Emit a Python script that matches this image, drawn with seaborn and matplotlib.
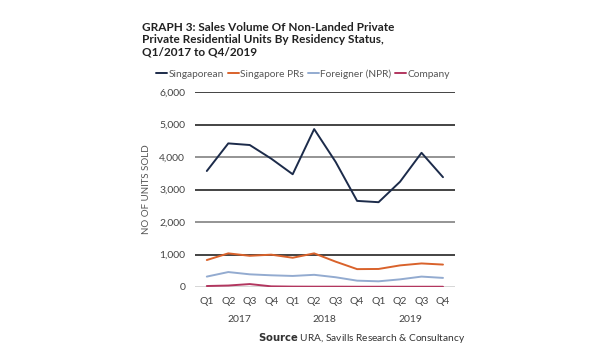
import pandas as pd
import matplotlib.pyplot as plt
import seaborn as sns

# Quarterly sales volume, Q1/2017 to Q4/2019
quarters = ['Q1', 'Q2', 'Q3', 'Q4'] * 3
years = ['2017', '2018', '2019']
singaporean = [3570, 4420, 4370, 3950, 3470, 4860, 3850, 2650, 2610, 3240, 4130, 3380]
singapore_prs = [830, 1035, 960, 995, 900, 1035, 780, 550, 555, 665, 725, 690]
foreigner = [320, 460, 390, 360, 340, 375, 300, 195, 175, 235, 320, 280]
company = [30, 45, 90, 20, 12, 10, 10, 8, 8, 8, 8, 8]

series = {
    'Singaporean': singaporean,
    'Singapore PRs': singapore_prs,
    'Foreigner (NPR)': foreigner,
    'Company': company,
}
colors = ['#1c2b4a', '#d9622b', '#93abd0', '#b2365f']

rows = []
for name, vals in series.items():
    for i, v in enumerate(vals):
        rows.append({'pos': i, 'status': name, 'units': v})
df = pd.DataFrame(rows)

sns.set_style('white')
plt.rcParams['font.family'] = ['Lato', 'DejaVu Sans']

fig = plt.figure(figsize=(6, 3.61), dpi=100)
ax = fig.add_axes([0.325, 0.205, 0.433, 0.54])

# gridlines
grid_cols = {0: '#cccccc', 1000: '#111111', 2000: '#777777', 3000: '#111111',
             4000: '#777777', 5000: '#111111', 6000: '#111111'}
for yv, c in grid_cols.items():
    ax.axhline(yv, color=c, lw=1.1, zorder=0)

sns.lineplot(data=df, x='pos', y='units', hue='status', palette=colors,
             linewidth=1.4, ax=ax, legend=False)

ax.set_xlim(-0.55, 11.55)
ax.set_ylim(0, 6000)
ax.set_yticks(range(0, 6001, 1000))
ax.set_yticklabels([f'{v:,}' for v in range(0, 6001, 1000)], fontsize=7.5, color='#444444')
ax.set_xticks(range(12))
ax.set_xticklabels(quarters, fontsize=7.5, color='#444444')
ax.tick_params(length=0, pad=7)
ax.set_xlabel('')
ax.set_ylabel('NO OF UNITS SOLD', fontsize=7, color='#555555', labelpad=6)
for s in ax.spines.values():
    s.set_visible(False)

for i, yr in enumerate(years):
    ax.text(1.5 + 4 * i, -0.165, yr, transform=ax.get_xaxis_transform(),
            ha='center', va='center', fontsize=7.5, color='#444444')

# legend drawn as text row
handles = [plt.Line2D([], [], color=c, lw=1.4) for c in colors]
fig.legend(handles, list(series.keys()), loc='center left', bbox_to_anchor=(0.245, 0.795),
           ncol=4, frameon=False, fontsize=7.3, handlelength=1.1, handletextpad=0.15,
           columnspacing=0.35, labelcolor='#555555')

fig.text(0.237, 0.84,
         'GRAPH 3: Sales Volume Of Non-Landed Private\n'
         'Private Residential Units By Residency Status,\n'
         'Q1/2017 to Q4/2019',
         fontsize=8.5, fontweight='bold', color='#222222', va='bottom', linespacing=1.15)

fig.text(0.43, 0.065, r'$\bf{Source}$ URA, Savills Research & Consultancy',
         fontsize=7.3, color='#333333', va='center')

fig.savefig('out.png', dpi=100, facecolor='white')
